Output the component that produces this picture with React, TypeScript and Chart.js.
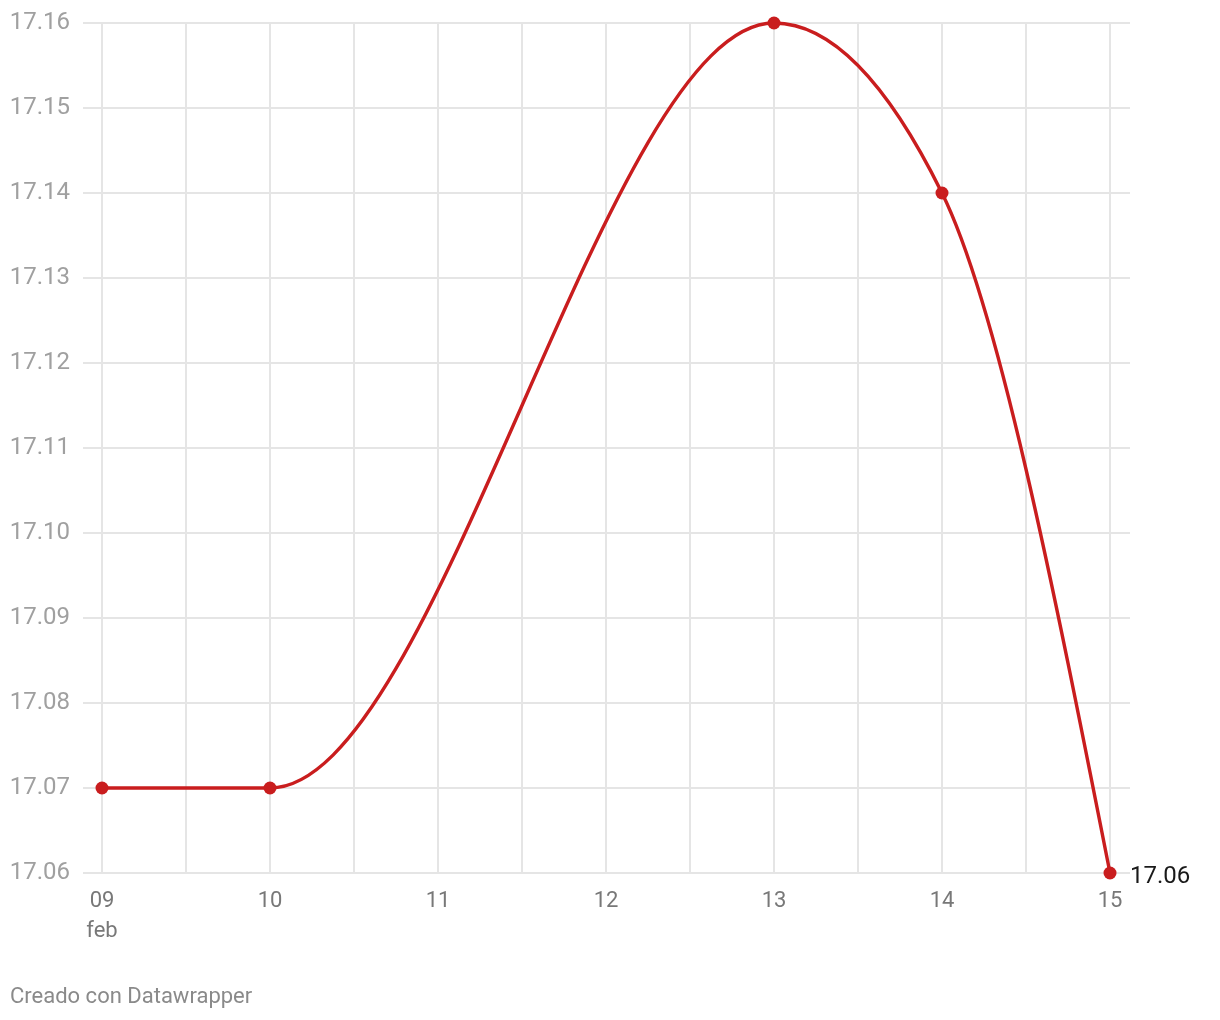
import React, { useEffect, useRef } from "react";
import { Chart, registerables } from "chart.js";

Chart.register(...registerables);

// ---- Data ----
const days = [9, 10, 13, 14, 15];
const values = [17.07, 17.07, 17.16, 17.14, 17.06];
const xGridTicks = [9, 9.5, 10, 10.5, 11, 11.5, 12, 12.5, 13, 13.5, 14, 14.5, 15];
const xDayLabels: Record<string, string> = {
  "9": "09",
  "10": "10",
  "11": "11",
  "12": "12",
  "13": "13",
  "14": "14",
  "15": "15",
};
const monthLabel = "feb";
const yTicks = [17.06, 17.07, 17.08, 17.09, 17.1, 17.11, 17.12, 17.13, 17.14, 17.15, 17.16];
const endLabel = "17.06";
const footerText = "Creado con Datawrapper";

const RED = "#c91d1e";
const FONT = "Roboto";

// d3 curveMonotoneX style control points
const monotoneX = {
  id: "monotoneX",
  beforeDatasetDraw(chart: any, args: any) {
    const meta = args.meta;
    const line = meta.dataset;
    if (!line) return;
    line.updateControlPoints(chart.chartArea, "x");
    const p = meta.data as any[];
    const n = p.length;
    if (n < 2) return;
    const sign = (v: number) => (v < 0 ? -1 : v > 0 ? 1 : 0);
    const t: number[] = new Array(n).fill(0);
    for (let i = 1; i < n - 1; i++) {
      const h0 = p[i].x - p[i - 1].x;
      const h1 = p[i + 1].x - p[i].x;
      const s0 = (p[i].y - p[i - 1].y) / h0;
      const s1 = (p[i + 1].y - p[i].y) / h1;
      const pp = (s0 * h1 + s1 * h0) / (h0 + h1);
      t[i] = (sign(s0) + sign(s1)) * Math.min(Math.abs(s0), Math.abs(s1), 0.5 * Math.abs(pp)) || 0;
    }
    const slope2 = (a: any, b: any, tt: number) => {
      const h = b.x - a.x;
      return h ? (3 * (b.y - a.y) / h - tt) / 2 : tt;
    };
    if (n > 2) {
      t[0] = slope2(p[0], p[1], t[1]);
      t[n - 1] = slope2(p[n - 2], p[n - 1], t[n - 2]);
    } else {
      const s = (p[1].y - p[0].y) / (p[1].x - p[0].x);
      t[0] = s;
      t[1] = s;
    }
    for (let i = 0; i < n; i++) {
      if (i > 0) {
        const h = p[i].x - p[i - 1].x;
        p[i].cp1x = p[i].x - h / 3;
        p[i].cp1y = p[i].y - (t[i] * h) / 3;
      }
      if (i < n - 1) {
        const h = p[i + 1].x - p[i].x;
        p[i].cp2x = p[i].x + h / 3;
        p[i].cp2y = p[i].y + (t[i] * h) / 3;
      }
    }
    delete line._path;
  },
};

const extras = {
  id: "extras",
  afterDatasetsDraw(chart: any) {
    const ctx = chart.ctx;
    const meta = chart.getDatasetMeta(0);
    const last = meta.data[meta.data.length - 1];
    ctx.save();
    ctx.font = `24px ${FONT}`;
    ctx.fillStyle = "#1a1a1a";
    ctx.textAlign = "left";
    ctx.textBaseline = "middle";
    ctx.fillText(endLabel, last.x + 20, last.y + 4);
    ctx.font = `22px ${FONT}`;
    ctx.fillStyle = "#8a8a8a";
    ctx.fillText(footerText, 10, 997);
    ctx.restore();
  },
};

export default function App() {
  const ref = useRef<HTMLCanvasElement | null>(null);

  useEffect(() => {
    if (!ref.current) return;
    const pxPerDay = 168;
    const chart = new Chart(ref.current, {
      type: "line",
      data: {
        datasets: [
          {
            data: days.map((d, i) => ({ x: d, y: values[i] })),
            borderColor: RED,
            backgroundColor: RED,
            borderWidth: 3.4,
            pointRadius: 6.5,
            pointBorderWidth: 0,
            pointBackgroundColor: RED,
            cubicInterpolationMode: "monotone",
            fill: false,
            clip: false as any,
          },
        ],
      },
      options: {
        responsive: false,
        animation: false,
        events: [],
        layout: { padding: { left: 10, right: 90, top: 23, bottom: 0 } },
        plugins: {
          legend: { display: false },
          tooltip: { enabled: false },
        },
        scales: {
          x: {
            type: "linear",
            min: 9 - 19 / pxPerDay,
            max: 15 + 20 / pxPerDay,
            afterBuildTicks: (scale: any) => {
              scale.ticks = xGridTicks.map((v) => ({ value: v }));
            },
            afterFit: (scale: any) => {
              scale.height = 147;
              scale.paddingLeft = 0;
              scale.paddingRight = 0;
            },
            grid: { color: "#e5e5e5", lineWidth: 2, drawTicks: false },
            border: { display: false },
            ticks: {
              autoSkip: false,
              maxRotation: 0,
              padding: 14,
              color: "#787878",
              font: { family: FONT, size: 22, lineHeight: 1.36 },
              callback: (v: any) => {
                const key = String(v);
                const lbl = xDayLabels[key];
                if (!lbl) return "";
                if (v === xGridTicks[0]) return [lbl, monthLabel];
                return lbl;
              },
            },
          },
          y: {
            type: "linear",
            min: yTicks[0],
            max: yTicks[yTicks.length - 1],
            afterBuildTicks: (scale: any) => {
              scale.ticks = yTicks.map((v) => ({ value: v }));
            },
            afterFit: (scale: any) => {
              scale.width = 73;
              scale.paddingTop = 0;
              scale.paddingBottom = 0;
            },
            grid: { color: "#e5e5e5", lineWidth: 2, drawTicks: false },
            border: { display: false },
            ticks: {
              padding: 13,
              color: "#a0a0a0",
              font: { family: FONT, size: 24 },
              callback: (v: any) => Number(v).toFixed(2),
            },
          },
        },
      },
      plugins: [monotoneX, extras],
    });
    return () => chart.destroy();
  }, []);

  return (
    <div style={{ position: "absolute", left: 0, top: 0, width: 1220, height: 1020, background: "#fff" }}>
      <canvas ref={ref} width={1220} height={1020} style={{ width: 1220, height: 1020, display: "block" }} />
    </div>
  );
}
